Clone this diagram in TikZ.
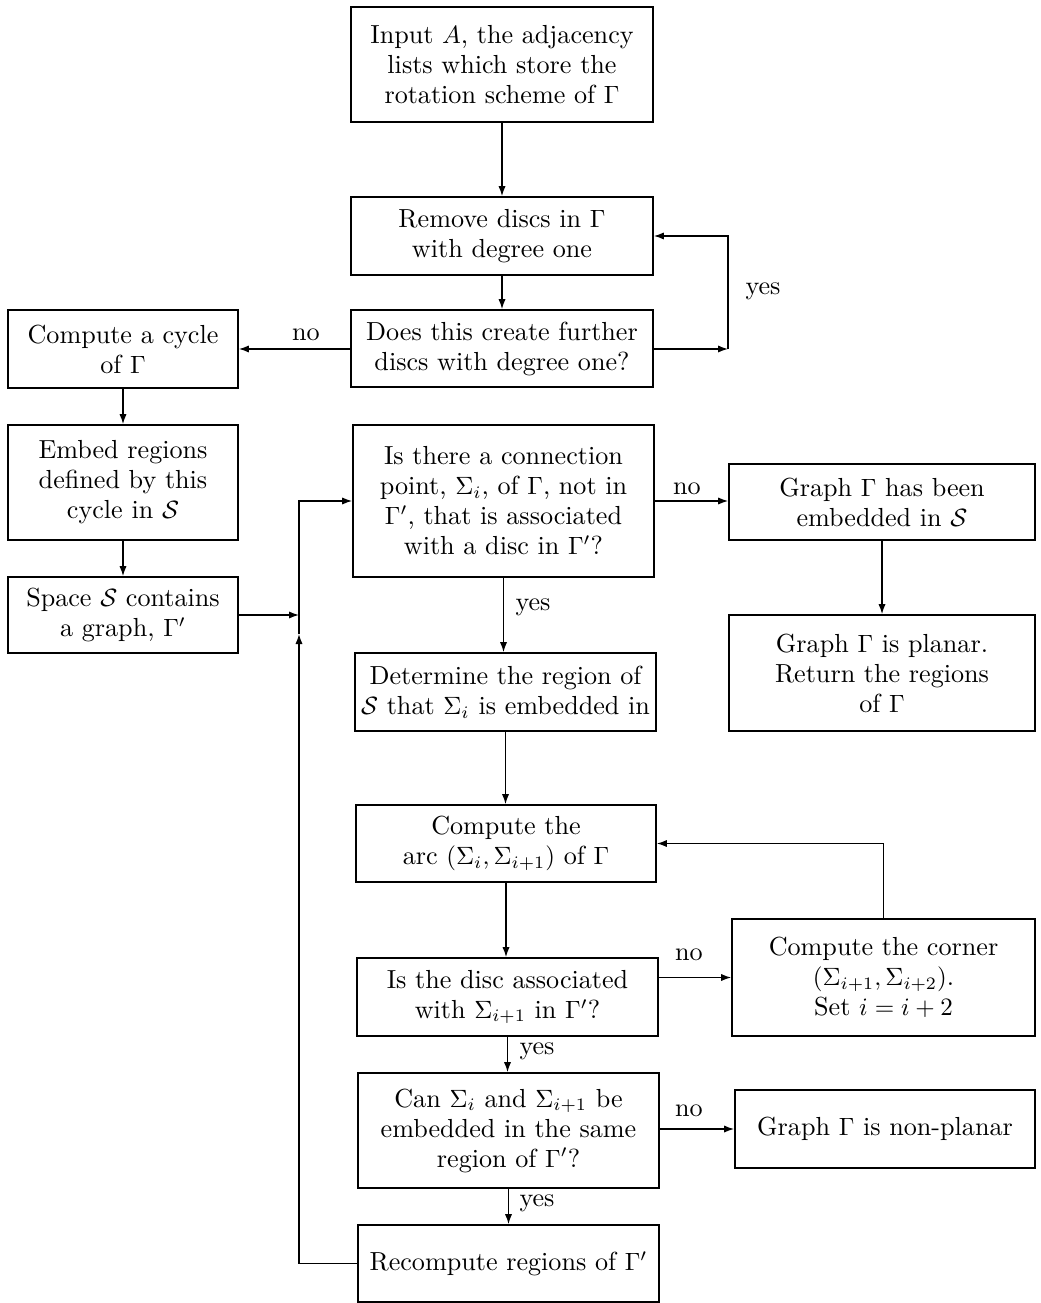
\documentclass[tikz,border=0pt]{standalone}
\usepackage{fontspec}
\usetikzlibrary{arrows.meta}
\tikzset{
  txt/.style={font=\fontsize{10.45}{12}\selectfont},
  box/.style={draw, line width=0.7pt, inner sep=0pt, align=center, txt},
  arr/.style={-{Latex[length=4pt,width=2.9pt]}, line width=0.55pt},
  lbl/.style={txt, inner sep=0pt}
}
\begin{document}
\begin{tikzpicture}[x=0.4pt,y=-0.4pt]
\useasboundingbox (0,0) rectangle (1040,1303);
% boxes
\node[box, minimum width=120.8pt, minimum height=46pt] (inp) at (502,64.5) {Input $A$, the adjacency\\lists which store the\\rotation scheme of $\Gamma$};
\node[box, minimum width=120.8pt, minimum height=31.2pt] (rem) at (502,236) {Remove discs in $\Gamma$\\with degree one};
\node[box, minimum width=120.8pt, minimum height=30.8pt] (does) at (502,348.5) {Does this create further\\discs with degree one?};
\node[box, minimum width=92pt, minimum height=31.2pt] (cyc) at (123,349) {Compute a cycle\\of $\Gamma$};
\node[box, minimum width=92pt, minimum height=46pt] (emb) at (123,482.5) {Embed regions\\defined by this\\cycle in $\mathcal{S}$};
\node[box, minimum width=92pt, minimum height=30.4pt] (spc) at (123,615) {Space $\mathcal{S}$ contains\\a graph, $\Gamma'$};
\node[box, minimum width=120.4pt, minimum height=60.8pt] (conn) at (503.5,501) {Is there a connection\\point, $\Sigma_i$, of $\Gamma$, not in\\$\Gamma'$, that is associated\\with a disc in $\Gamma'$?};
\node[box, minimum width=122.4pt, minimum height=30.4pt] (hasb) at (882,502) {Graph $\Gamma$ has been\\embedded in $\mathcal{S}$};
\node[box, minimum width=122.4pt, minimum height=46.4pt] (plan) at (882,673) {Graph $\Gamma$ is planar.\\Return the regions\\of $\Gamma$};
\node[box, minimum width=120.4pt, minimum height=31.2pt] (det) at (505.5,692) {Determine the region of\\$\mathcal{S}$ that $\Sigma_i$ is embedded in};
\node[box, minimum width=120pt, minimum height=30.8pt] (arc) at (506,843.5) {Compute the\\arc $(\Sigma_i,\Sigma_{i+1})$ of $\Gamma$};
\node[box, minimum width=120.4pt, minimum height=31.2pt] (disc) at (507.5,997) {Is the disc associated\\with $\Sigma_{i+1}$ in $\Gamma'$?};
\node[box, minimum width=121.2pt, minimum height=46.8pt] (corn) at (883.5,977.5) {Compute the corner\\$(\Sigma_{i+1},\Sigma_{i+2})$.\\Set $i=i+2$};
\node[box, minimum width=120.4pt, minimum height=46pt] (can) at (508.5,1130.5) {Can $\Sigma_i$ and $\Sigma_{i+1}$ be\\embedded in the same\\region of $\Gamma'$?};
\node[box, minimum width=120pt, minimum height=31.2pt] (nonp) at (885,1129) {Graph $\Gamma$ is non-planar};
\node[box, minimum width=120.4pt, minimum height=30.8pt] (rec) at (508.5,1263.5) {Recompute regions of $\Gamma'$};
% coordinates
\coordinate (yl) at (728,349);
\coordinate (ja) at (299,634);
\coordinate (jb) at (299,615);
% connectors
\draw[arr] (inp.south) -- (inp.south |- rem.north);
\draw[arr] (rem.south) -- (rem.south |- does.north);
\draw[arr] (does.east |- yl) -- (yl);
\draw[arr] (yl) |- (rem.east);
\node[lbl] (lyes1) at (763,291) {yes};
\draw[arr] (does.west |- cyc.east) -- (cyc.east);
\node[lbl, anchor=base] (lno1) at (306,341) {no};
\draw[arr] (cyc.south) -- (emb.north);
\draw[arr] (emb.south) -- (spc.north);
\draw[arr] (spc.east) -- (jb);
\draw[arr] (rec.west) -| (ja);
\draw[arr] (ja) |- (conn.west);
\draw[arr] (conn.east) -- (conn.east -| hasb.west);
\node[lbl, anchor=base] (lno2) at (687,495) {no};
\draw[arr] (hasb.south) -- (hasb.south |- plan.north);
\draw[arr] (conn.south) -- (conn.south |- det.north);
\node[lbl] (lyes2) at (533,607) {yes};
\draw[arr] (det.south) -- (det.south |- arc.north);
\draw[arr] (arc.south) -- (arc.south |- disc.north);
\draw[arr] (corn.west -| disc.east) -- (corn.west);
\node[lbl, anchor=base] (lno3) at (689,960) {no};
\draw[arr] (corn.north) |- (arc.east);
\draw[arr] (disc.south) -- (disc.south |- can.north);
\node[lbl] (lyes3) at (537,1051) {yes};
\draw[arr] (can.east |- nonp.west) -- (nonp.west);
\node[lbl, anchor=base] (lno4) at (689,1116) {no};
\draw[arr] (can.south) -- (can.south |- rec.north);
\node[lbl] (lyes4) at (537,1203) {yes};
\end{tikzpicture}
\end{document}
